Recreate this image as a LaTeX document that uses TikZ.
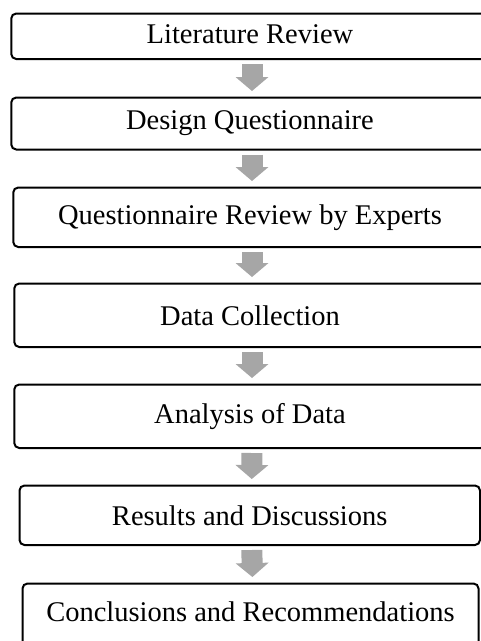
\documentclass[tikz,border=0pt]{standalone}
\usepackage{fontspec}
\setmainfont{Liberation Serif}
\usepackage{tikz}
\usetikzlibrary{arrows.meta}

\definecolor{arrowgray}{RGB}{166,166,166}

\tikzset{
    stagebox/.style={draw=black, line width=2pt, rounded corners=5pt, fill=white,
        inner sep=0pt, font=\fontsize{28.5}{34}\selectfont},
    flowarrow/.style={draw=arrowgray, line width=21pt,
        -{Triangle[width=33pt,length=14pt,line width=0pt]},
        shorten <=4pt, shorten >=5.5pt}
}

\begin{document}
\begin{tikzpicture}[x=1pt, y=-1pt]
    \useasboundingbox (0,0) rectangle (481,641);
    \clip (0,0) rectangle (481,641);

    % stages of the study
    \node[stagebox, minimum width=477.5pt, minimum height=45.5pt, text depth=4pt] (lit) at (250,36.25) {Literature Review};
    \node[stagebox, minimum width=477.5pt, minimum height=52pt] (des) at (250,123.5) {Design Questionnaire};
    \node[stagebox, minimum width=473.5pt, minimum height=59.5pt] (rev) at (250,217.25) {Questionnaire Review by Experts};
    \node[stagebox, minimum width=471.5pt, minimum height=63.5pt] (col) at (250,315.25) {Data Collection};
    \node[stagebox, minimum width=471.5pt, minimum height=63.5pt] (ana) at (250,416.25) {Analysis of Data};
    \node[stagebox, minimum width=460.5pt, minimum height=59.5pt] (res) at (249.75,515.25) {Results and Discussions};
    \node[stagebox, minimum width=456pt, minimum height=66pt, text depth=9pt] (con) at (250.5,616.5) {Conclusions and Recommendations};

    % block arrows
    \foreach \a/\b in {lit/des, des/rev, rev/col, col/ana, ana/res, res/con} {
        \draw[flowarrow] ([xshift=2pt]\a.south) -- ([xshift=2pt]\b.north);
    }
\end{tikzpicture}
\end{document}
